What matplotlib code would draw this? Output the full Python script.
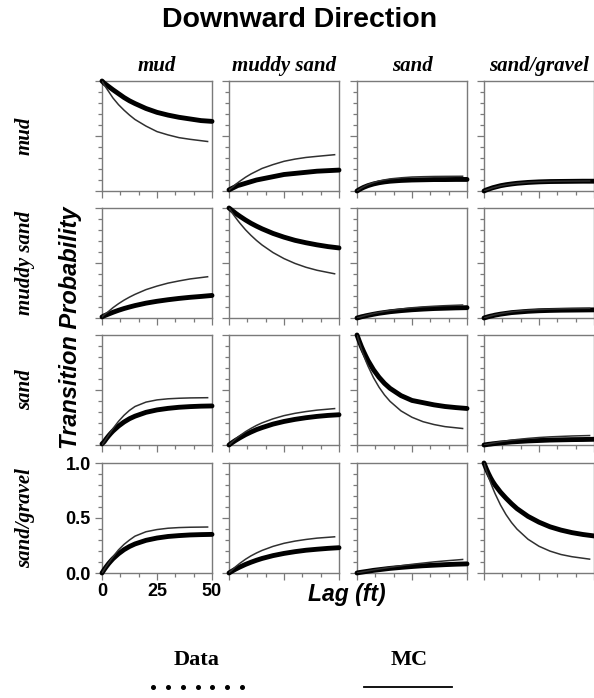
import numpy as np
import matplotlib
matplotlib.use("Agg")
import matplotlib.pyplot as plt
from matplotlib.ticker import FixedLocator, MultipleLocator, NullFormatter
from matplotlib.lines import Line2D

facies = ["mud", "muddy sand", "sand", "sand/gravel"]

lag_data = [0, 1, 2, 3, 4, 5, 7.5, 10, 12.5, 15, 20, 25, 30, 35, 40, 45, 50]
lag_mc = [0, 1, 2, 3, 4, 5, 7.5, 10, 12.5, 15, 20, 25, 30, 35, 40, 48]

# rows = from facies, entries = to facies (mud, muddy sand, sand, sand/gravel)
data_from_mud = [
    [1.00, .98, .965, .95, .935, .92, .885, .85, .82, .795, .75, .715, .69, .67, .655, .64, .633],
    [.01, .02, .03, .04, .05, .055, .07, .085, .10, .11, .13, .15, .16, .17, .18, .185, .19],
    [0, .012, .023, .033, .041, .049, .064, .075, .083, .089, .096, .100, .102, .104, .104, .105, .105],
    [0, .009, .016, .023, .030, .035, .048, .057, .064, .070, .078, .083, .086, .087, .088, .089, .089],
]
mc_from_mud = [
    [1.00, .965, .935, .905, .875, .845, .785, .735, .69, .65, .59, .54, .51, .485, .47, .45],
    [.01, .025, .04, .06, .075, .09, .125, .155, .18, .205, .24, .27, .29, .305, .315, .33],
    [0, .014, .027, .038, .048, .058, .076, .091, .101, .110, .120, .127, .130, .132, .133, .134],
    [0, .008, .015, .022, .029, .034, .047, .056, .064, .070, .079, .084, .087, .089, .090, .091],
]

data_from_muddy_sand = [
    [.01, .02, .028, .036, .044, .052, .07, .086, .10, .113, .135, .152, .166, .178, .188, .196, .205],
    [1.0, .984, .968, .952, .938, .924, .891, .861, .835, .811, .769, .735, .706, .684, .665, .649, .637],
    [0, .005, .011, .015, .020, .024, .034, .043, .050, .057, .067, .075, .081, .086, .089, .092, .094],
    [0, .006, .012, .017, .021, .026, .035, .042, .049, .053, .061, .066, .069, .071, .072, .073, .074],
]
mc_from_muddy_sand = [
    [.01, .03, .045, .06, .077, .094, .13, .162, .19, .215, .258, .29, .317, .337, .355, .375],
    [1.0, .97, .94, .913, .886, .861, .802, .751, .705, .664, .595, .54, .496, .461, .434, .402],
    [0, .006, .012, .018, .024, .029, .041, .051, .060, .069, .082, .093, .101, .107, .112, .118],
    [0, .007, .013, .019, .024, .029, .039, .048, .056, .062, .071, .077, .081, .084, .086, .088],
]

data_from_sand = [
    [.01, .03, .058, .083, .106, .127, .172, .209, .239, .262, .297, .319, .333, .343, .349, .353, .355],
    [0, .015, .029, .042, .054, .066, .094, .118, .140, .158, .190, .214, .233, .248, .260, .269, .275],
    [1.0, .946, .895, .850, .808, .768, .684, .616, .560, .515, .449, .405, .385, .365, .35, .34, .332],
    [0, .003, .006, .008, .011, .013, .019, .023, .028, .031, .037, .041, .045, .047, .049, .050, .052],
]
mc_from_sand = [
    [0, .03, .06, .09, .12, .15, .215, .27, .315, .35, .39, .41, .42, .425, .428, .43],
    [0, .019, .037, .055, .071, .086, .121, .151, .178, .201, .238, .267, .288, .304, .317, .331],
    [1.0, .934, .873, .817, .765, .717, .612, .526, .455, .397, .31, .252, .212, .186, .167, .15],
    [0, .005, .009, .013, .017, .021, .030, .037, .044, .050, .060, .068, .074, .078, .082, .086],
]

data_from_sand_gravel = [
    [0, .031, .059, .085, .108, .130, .175, .212, .241, .264, .297, .318, .332, .340, .346, .349, .351],
    [0, .012, .024, .035, .045, .055, .078, .098, .116, .132, .158, .178, .194, .207, .216, .224, .230],
    [0, .004, .007, .010, .013, .016, .024, .030, .036, .042, .051, .059, .066, .071, .076, .080, .083],
    [1.0, .95, .905, .865, .83, .80, .735, .68, .63, .585, .515, .462, .42, .39, .367, .35, .337],
]
mc_from_sand_gravel = [
    [0, .032, .062, .09, .12, .148, .21, .26, .30, .335, .375, .395, .407, .413, .416, .418],
    [.005, .02, .039, .057, .073, .089, .125, .156, .182, .205, .242, .270, .290, .305, .317, .329],
    [0, .004, .008, .012, .015, .019, .028, .036, .044, .052, .066, .079, .090, .101, .110, .123],
    [1.0, .936, .877, .822, .771, .723, .618, .531, .459, .399, .307, .243, .199, .168, .148, .126],
]

data_rows = [data_from_mud, data_from_muddy_sand, data_from_sand, data_from_sand_gravel]
mc_rows = [mc_from_mud, mc_from_muddy_sand, mc_from_sand, mc_from_sand_gravel]

W, H = 594, 698
fig = plt.figure(figsize=(W / 100, H / 100), dpi=100)

serif = "Liberation Serif"
sans = "Liberation Sans"
frame = "#7a7a7a"

col_left = [102, 229, 357, 484]
row_top = [81, 208, 335, 463]
size = 110


def px_rect(x, y, w, h):
    return [x / W, 1 - (y + h) / H, w / W, h / H]


for i in range(4):
    for j in range(4):
        ax = fig.add_axes(px_rect(col_left[j], row_top[i], size, size))
        ax.plot(lag_data, data_rows[i][j], color="black", lw=3.5,
                solid_capstyle="round", solid_joinstyle="round", clip_on=False, zorder=3)
        ax.plot(lag_mc, mc_rows[i][j], color="#303030", lw=1.1, zorder=4)
        ax.set_xlim(0, 50)
        ax.set_ylim(0, 1)
        ax.xaxis.set_major_locator(FixedLocator([0, 25, 50]))
        ax.xaxis.set_minor_locator(MultipleLocator(25 / 3))
        ax.yaxis.set_major_locator(FixedLocator([0, 0.5, 1.0]))
        ax.yaxis.set_minor_locator(MultipleLocator(0.1))
        for s in ax.spines.values():
            s.set_color(frame)
            s.set_linewidth(1.0)
        ax.tick_params(which="both", direction="out", color=frame, width=0.9)
        ax.tick_params(which="major", length=5)
        ax.tick_params(which="minor", length=3)
        if i == 3 and j == 0:
            ax.set_xticklabels(["0", "25", "50"])
            ax.set_yticklabels(["0.0", "0.5", "1.0"])
            for t in ax.get_xticklabels() + ax.get_yticklabels():
                t.set_fontfamily(sans)
                t.set_fontweight("bold")
                t.set_fontsize(13)
            ax.tick_params(which="major", axis="x", pad=2)
            ax.tick_params(which="major", axis="y", pad=3)
        else:
            ax.xaxis.set_major_formatter(NullFormatter())
            ax.yaxis.set_major_formatter(NullFormatter())

# column and row headings
for j, name in enumerate(facies):
    fig.text((col_left[j] + size / 2) / W, 1 - 66 / H, name, ha="center", va="center",
             family=serif, weight="bold", style="italic", fontsize=15)
for i, name in enumerate(facies):
    fig.text(25 / W, 1 - (row_top[i] + size / 2) / H, name, ha="center", va="center",
             rotation=90, family=serif, weight="bold", style="italic", fontsize=15)

fig.text(300 / W, 1 - 20 / H, "Downward Direction", ha="center", va="center",
         family=sans, weight="bold", fontsize=20.5)
fig.text(70 / W, 1 - 328 / H, "Transition Probability", ha="center", va="center",
         rotation=90, family=sans, weight="bold", style="italic", fontsize=17)
fig.text(347 / W, 1 - 594 / H, "Lag (ft)", ha="center", va="center",
         family=sans, weight="bold", style="italic", fontsize=16.5)

# legend
fig.text(197 / W, 1 - 660 / H, "Data", ha="center", va="center",
         family=serif, weight="bold", fontsize=16)
fig.text(409 / W, 1 - 660 / H, "MC", ha="center", va="center",
         family=serif, weight="bold", fontsize=16)
dot_x = np.linspace(153, 242, 7) / W
fig.add_artist(Line2D(dot_x, np.full(7, 1 - 687 / H), ls="none", marker="o",
                      ms=2.6, color="black", transform=fig.transFigure))
fig.add_artist(Line2D([364 / W, 452 / W], [1 - 687 / H, 1 - 687 / H], lw=1.3,
                      color="black", transform=fig.transFigure))

fig.savefig("out.png", dpi=100)
